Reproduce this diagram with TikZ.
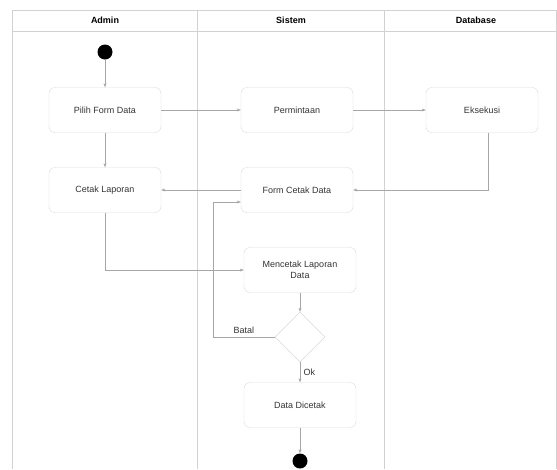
\documentclass[tikz,border=0pt]{standalone}
\usepackage{fontspec}
\setmainfont{Liberation Sans}
\usetikzlibrary{shapes.geometric, arrows.meta, positioning}

\begin{document}
\begin{tikzpicture}[
  x=1pt, y=-1pt,
  font=\fontsize{9}{11}\selectfont, text=black!80,
  act/.style={rectangle, rounded corners=6pt, draw=gray!30, minimum width=112pt, minimum height=45pt, align=center},
  dot/.style={circle, fill=black, minimum size=15pt, inner sep=0pt},
  choice/.style={diamond, draw=gray!40, minimum width=50pt, minimum height=50pt, inner sep=0pt},
  lane/.style={draw=gray!35, line width=0.6pt},
  flow/.style={draw=gray!70, -{Stealth[length=4pt,width=3pt]}},
  head/.style={font=\fontsize{9}{11}\selectfont\bfseries, text=black}]

  \useasboundingbox (0,0) rectangle (557,469);

  \draw[lane] (12,469) -- (12,10) -- (556,10) -- (556,469);
  \draw[lane] (12,31) -- (556,31);
  \draw[lane] (197,10) -- (197,469);
  \draw[lane] (384,10) -- (384,469);
  \node[head] (hadmin) at (105,20) {Admin};
  \node[head] (hsistem) at (291,20) {Sistem};
  \node[head] (hdb) at (476,20) {Database};

  \node[dot] (start) at (105,52) {};
  \node[act] (pilih) at (105,110) {Pilih Form Data};
  \node[act] (cetak) at (105,190) {Cetak Laporan};
  \node[act] (minta) at (297,110) {Permintaan};
  \node[act] (eksekusi) at (482,110) {Eksekusi};
  \node[act] (formcetak) at (297,190) {Form Cetak Data};
  \node[act] (mencetak) at (300,270) {Mencetak Laporan\\Data};
  \node[choice] (cek) at (300,337) {};
  \node[act] (dicetak) at (300,405) {Data Dicetak};
  \node[dot] (finish) at (300,461) {};
  \coordinate (balik) at (213,337);

  \draw[flow] (start) -- (pilih);
  \draw[flow] (pilih) -- (cetak);
  \draw[flow] (pilih) -- (minta);
  \draw[flow] (minta) -- (eksekusi);
  \draw[flow] ([xshift=6pt]eksekusi.south) |- (formcetak.east);
  \draw[flow] (formcetak) -- (cetak);
  \draw[flow] (cetak.south) |- (mencetak.west);
  \draw[flow] (mencetak) -- (cek);
  \draw[flow] (cek.west) -- node[above] (batal) {Batal} (balik) |- ([yshift=-12pt]formcetak.west);
  \draw[flow] (cek) -- node[right] (ok) {Ok} (dicetak);
  \draw[flow] (dicetak) -- (finish);
\end{tikzpicture}
\end{document}
